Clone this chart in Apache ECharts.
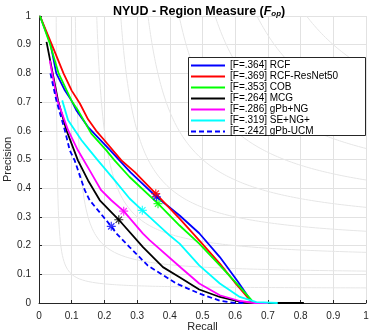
<!DOCTYPE html>
<html>
<head>
<meta charset="utf-8">
<script src="https://cdn.jsdelivr.net/npm/echarts@6/dist/echarts.min.js"></script>
<style>
  html, body { margin: 0; padding: 0; background: #fff; }
  #chart { width: 373px; height: 332px; }
</style>
</head>
<body>
<div id="chart"></div>
<script>
// curve names as in the legend
const seriesNames = ['[F=.364] RCF', '[F=.369] RCF-ResNet50', '[F=.353] COB', '[F=.264] MCG',
  '[F=.286] gPb+NG', '[F=.319] SE+NG+', '[F=.242] gPb-UCM'];
const seriesColors = ['#0000ff', '#ff0000', '#00ff00', '#000000', '#ff00ff', '#00ffff', '#0000ff'];

// [recall, precision]
const rcf = [[0.003, 1], [0.035, 0.904], [0.053, 0.8], [0.079, 0.741], [0.099, 0.706], [0.114, 0.672],
  [0.15, 0.613], [0.218, 0.532], [0.28, 0.455], [0.359, 0.37], [0.43, 0.305], [0.49, 0.243],
  [0.553, 0.16], [0.609, 0.073], [0.644, 0.015], [0.655, 0], [0.69, 0]];
const rcfResNet = [[0.003, 1], [0.038, 0.904], [0.075, 0.8], [0.1, 0.74], [0.125, 0.695], [0.15, 0.64],
  [0.175, 0.6], [0.2, 0.567], [0.252, 0.497], [0.293, 0.456], [0.357, 0.381], [0.43, 0.294],
  [0.49, 0.218], [0.553, 0.137], [0.598, 0.073], [0.644, 0.012], [0.65, 0], [0.67, 0]];
const cob = [[0.003, 1], [0.033, 0.904], [0.06, 0.8], [0.099, 0.706], [0.119, 0.672], [0.16, 0.59],
  [0.206, 0.532], [0.231, 0.497], [0.277, 0.439], [0.364, 0.346], [0.43, 0.27], [0.49, 0.207],
  [0.553, 0.131], [0.614, 0.056], [0.65, 0.01], [0.655, 0], [0.68, 0]];
const mcg = [[0.023, 0.91], [0.058, 0.706], [0.084, 0.602], [0.119, 0.497], [0.15, 0.427],
  [0.186, 0.358], [0.244, 0.29], [0.318, 0.195], [0.379, 0.125], [0.43, 0.09], [0.49, 0.047],
  [0.553, 0.021], [0.614, 0.005], [0.65, 0], [0.81, 0]];
const gpbNg = [[0.033, 0.845], [0.056, 0.706], [0.089, 0.602], [0.119, 0.532], [0.155, 0.462],
  [0.19, 0.393], [0.221, 0.358], [0.259, 0.32], [0.318, 0.242], [0.339, 0.218], [0.435, 0.122],
  [0.49, 0.068], [0.553, 0.027], [0.614, 0.007], [0.66, 0], [0.7, 0]];
const seNg = [[0.071, 0.706], [0.089, 0.637], [0.13, 0.567], [0.155, 0.532], [0.18, 0.497],
  [0.231, 0.428], [0.277, 0.364], [0.316, 0.323], [0.4, 0.235], [0.43, 0.207], [0.49, 0.131],
  [0.553, 0.068], [0.614, 0.021], [0.665, 0.003], [0.73, 0]];
const gpbUcm = [[0.035, 0.8], [0.053, 0.706], [0.079, 0.602], [0.094, 0.532], [0.109, 0.497],
  [0.14, 0.393], [0.155, 0.358], [0.221, 0.267], [0.237, 0.242], [0.277, 0.195], [0.333, 0.13],
  [0.42, 0.068], [0.49, 0.033], [0.553, 0.008], [0.6, 0], [0.63, 0]];

// best (ODS) point of each curve, same order as the legend
const odsRecall = [0.359, 0.357, 0.364, 0.244, 0.259, 0.316, 0.221];
const odsPrecision = [0.37, 0.381, 0.346, 0.29, 0.32, 0.323, 0.267];

const tickLabels = ['0', '0.1', '0.2', '0.3', '0.4', '0.5', '0.6', '0.7', '0.8', '0.9', '1'];
const fLevels = [0.1, 0.2, 0.3, 0.4, 0.5, 0.6, 0.7, 0.8, 0.9];

const curves = [rcf, rcfResNet, cob, mcg, gpbNg, seNg, gpbUcm];
const font = '"Liberation Sans", Arial, sans-serif';

// iso-F contour lines in the background
function isoCurve(f) {
  const pts = [];
  const r0 = f / (2 - f);
  for (let i = 0; i <= 120; i++) {
    const r = r0 + (1 - r0) * Math.pow(i / 120, 2);
    pts.push([r, f * r / (2 * r - f)]);
  }
  return pts;
}

const chart = echarts.init(document.getElementById('chart'));

const axisCommon = {
  type: 'value', min: 0, max: 1, interval: 0.1,
  axisLine: { show: true, lineStyle: { color: '#262626', width: 1 } },
  axisTick: { show: true, inside: true, length: 3, lineStyle: { color: '#262626' } },
  axisLabel: { color: '#262626', fontSize: 10, fontFamily: font,
    formatter: v => tickLabels[Math.round(v * 10)] },
  splitLine: { show: true, lineStyle: { color: '#e2e2e2', width: 1 } },
  nameLocation: 'middle',
  nameMoveOverlap: false,
  nameTextStyle: { color: '#262626', fontSize: 11, fontFamily: font }
};

const series = [];
fLevels.forEach(f => {
  series.push({
    type: 'line', silent: true, symbol: 'none', data: isoCurve(f), z: 1,
    lineStyle: { color: '#e6e6e6', width: 1 }
  });
});
curves.forEach((c, i) => {
  series.push({
    name: seriesNames[i], type: 'line', symbol: 'none', data: c, z: 3,
    color: seriesColors[i],
    lineStyle: { color: seriesColors[i], width: 1.8, type: i === 6 ? [5, 3] : 'solid' }
  });
});
odsRecall.forEach((r, i) => {
  series.push({
    type: 'scatter', silent: true, z: 4,
    symbol: 'path://M5,0L5,10M0,5L10,5M1.5,1.5L8.5,8.5M1.5,8.5L8.5,1.5',
    symbolSize: 9,
    itemStyle: { color: 'transparent', borderColor: seriesColors[i], borderWidth: 1.2 },
    data: [[r, odsPrecision[i]]]
  });
});

const option = {
  animation: false,
  title: {
    text: '{b|NYUD - Region Measure (}{i|F}{s|op}{b|)}',
    left: 108, top: 0,
    textStyle: {
      rich: {
        b: { fontSize: 12.5, fontWeight: 'bold', color: '#000', fontFamily: font },
        i: { fontSize: 12.5, fontStyle: 'italic', color: '#000', fontFamily: font },
        s: { fontSize: 8, fontStyle: 'italic', color: '#000', fontFamily: font, padding: [5, 0, 0, 0] }
      }
    }
  },
  grid: { left: 39, right: 7, top: 16, bottom: 29, containLabel: false, outerBoundsMode: 'none' },
  xAxis: Object.assign({}, axisCommon, { name: 'Recall', nameGap: 18 }),
  yAxis: Object.assign({}, axisCommon, { name: 'Precision', nameGap: 26 }),
  graphic: [{
    type: 'rect', left: 188, top: 57, z: 10,
    shape: { width: 177, height: 78 },
    style: { fill: '#fff', stroke: '#262626', lineWidth: 1 }
  }],
  legend: {
    data: seriesNames,
    orient: 'vertical',
    left: 188, top: 55, z: 20,
    padding: [5, 5, 5, 2],
    itemWidth: 34, itemHeight: 11, itemGap: 0,
    itemStyle: { opacity: 0 },
    textStyle: { fontSize: 10, color: '#000', fontFamily: font, lineHeight: 11 },
    selectedMode: false
  },
  series: series
};

chart.setOption(option);
</script>
</body>
</html>
